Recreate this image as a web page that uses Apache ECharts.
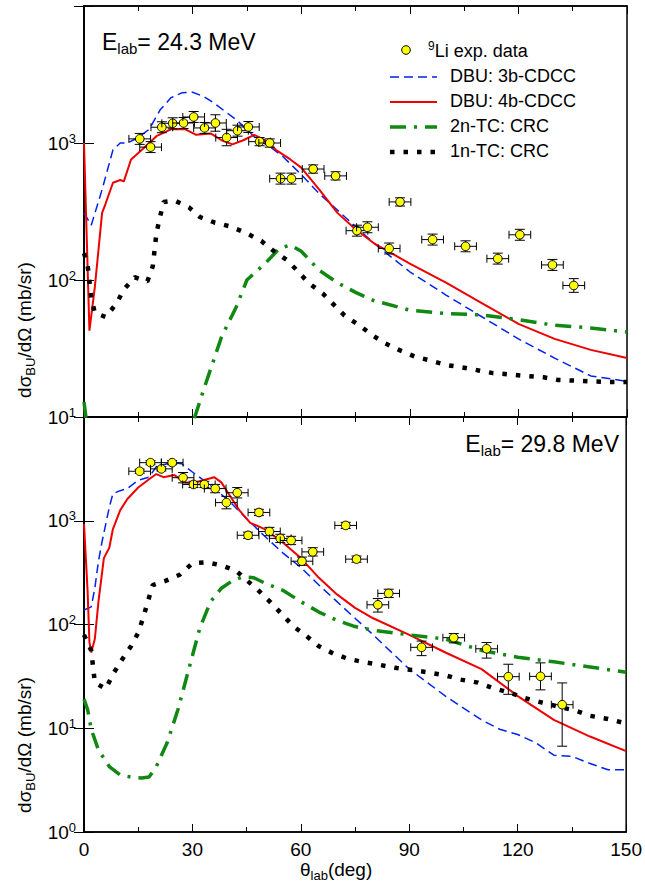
<!DOCTYPE html>
<html><head><meta charset="utf-8">
<script src="https://cdn.jsdelivr.net/npm/echarts@6/dist/echarts.min.js"></script>
<style>html,body{margin:0;background:#fff}#c{width:645px;height:886px}</style>
</head><body><div id="c"></div>
<script>
// values given as log10(mb/sr), angles in deg
const topExp = [[15.4,3.03],[18.4,2.97],[21.5,3.115],[24.5,3.144],[27.5,3.146],[30.3,3.19],[33.3,3.11],[36.3,3.146],[39.4,3.04],[42.4,3.09],[45.4,3.117],[48.5,3.01],[51.3,3.0],[54.3,2.74],[57.3,2.74],[63.3,2.81],[69.5,2.76],[75.4,2.36],[78.3,2.385],[84.3,2.23],[87.3,2.57],[96.3,2.295],[105.4,2.246],[114.3,2.156],[120.4,2.33],[129.4,2.11],[135.3,1.96]];
const topExpErr = [0.04,0.04,0.04,0.04,0.04,0.04,0.04,0.06,0.06,0.04,0.04,0.03,0.03,0.04,0.04,0.03,0.03,0.04,0.04,0.04,0.03,0.04,0.04,0.04,0.04,0.04,0.05];
const top3b = [[0,2.49],[2,2.4],[5,2.66],[8,2.95],[10,3.0],[12,3.0],[15,3.04],[18,3.1],[21,3.24],[24,3.33],[27,3.366],[30,3.37],[33,3.34],[36,3.29],[39,3.23],[42,3.17],[45,3.1],[48,3.02],[51,2.98],[55,2.9],[60,2.77],[65,2.63],[70,2.51],[75,2.39],[80,2.27],[90,2.06],[100,1.89],[110,1.73],[120,1.57],[130,1.43],[140,1.3],[150,1.26]];
const top4b = [[0,3.0],[1.5,1.63],[3,1.95],[5,2.49],[6,2.56],[8,2.71],[10,2.73],[11,2.72],[13,2.88],[16,2.95],[20,3.05],[24,3.1],[28,3.1],[31,3.06],[35,3.07],[38,3.02],[41,2.99],[44,3.02],[47,3.06],[50,3.02],[53,2.95],[57,2.88],[60,2.82],[65,2.66],[70,2.49],[75,2.37],[80,2.27],[90,2.12],[100,1.98],[110,1.83],[120,1.68],[130,1.57],[140,1.49],[150,1.43]];
const top2n = [[0,1.11],[1,0.9],[30,0.95],[33,1.195],[38,1.585],[42,1.8],[45,2.0],[50,2.12],[54,2.23],[57,2.256],[60,2.21],[65,2.07],[70,1.98],[75,1.91],[80,1.85],[90,1.78],[100,1.756],[110,1.745],[120,1.71],[130,1.67],[140,1.65],[150,1.62]];
const top1n = [[0,2.195],[1,2.11],[1.5,1.99],[2,1.87],[3,1.76],[6,1.73],[9,1.83],[11,1.93],[14,2.02],[17.5,1.99],[19,2.1],[19.5,2.22],[20,2.34],[21,2.46],[22,2.57],[25,2.58],[29,2.53],[32,2.46],[36,2.42],[40.5,2.39],[45,2.34],[49,2.285],[52,2.22],[56,2.146],[59,2.066],[62,1.98],[66,1.9],[69,1.82],[72,1.74],[76,1.67],[79.5,1.6],[83,1.54],[87,1.49],[91.5,1.44],[96,1.41],[100,1.38],[105,1.36],[109,1.34],[113,1.32],[118,1.31],[122,1.3],[127,1.29],[131,1.27],[136,1.265],[140,1.26],[145,1.256],[150,1.255]];

const botExp = [[15.4,3.477],[18.4,3.56],[21.4,3.5],[24.4,3.56],[27.4,3.415],[30.3,3.35],[33.3,3.35],[36.3,3.31],[39.4,3.175],[42.4,3.27],[45.4,2.86],[48.4,3.08],[51.3,2.896],[54.3,2.83],[57.3,2.81],[60.3,2.61],[63.3,2.7],[72.4,2.955],[75.4,2.63],[81.3,2.19],[84.3,2.3],[93.4,1.78],[102.3,1.873],[111.4,1.766],[117.4,1.497],[126.3,1.5],[132.3,1.227]];
const botExpErrHi = [0.02,0.02,0.02,0.02,0.05,0.03,0.03,0.04,0.06,0.05,0.03,0.03,0.04,0.04,0.04,0.04,0.04,0.03,0.03,0.06,0.04,0.06,0.04,0.06,0.12,0.13,0.21];
const botExpErrLo = [0.02,0.02,0.02,0.02,0.05,0.03,0.03,0.04,0.06,0.05,0.03,0.03,0.04,0.04,0.04,0.04,0.04,0.03,0.03,0.07,0.04,0.08,0.05,0.09,0.17,0.13,0.4];
const bot3b = [[0,2.14],[2,2.17],[3,2.35],[4,2.61],[5,2.8],[7,3.13],[8,3.26],[10,3.29],[12,3.31],[15,3.39],[18,3.42],[20,3.52],[24,3.56],[27,3.55],[30,3.47],[35,3.34],[40,3.195],[45,3.02],[50,2.85],[55,2.69],[60,2.55],[65,2.38],[70,2.22],[75,2.06],[80,1.9],[90,1.57],[100,1.31],[110,1.08],[115,0.99],[120,0.94],[125,0.86],[130,0.74],[135,0.73],[140,0.66],[145,0.6],[150,0.6]];
const bot4b = [[0,2.97],[1,2.32],[1.5,1.83],[2,1.73],[3,1.86],[4,2.22],[5.5,2.64],[7,2.74],[8,2.92],[10,3.1],[12,3.21],[15,3.32],[18,3.4],[20,3.45],[22,3.42],[25,3.44],[28,3.37],[30,3.36],[33,3.39],[36,3.42],[38,3.37],[40,3.26],[43,3.1],[46,2.98],[50,2.92],[55,2.79],[60,2.64],[65,2.45],[70,2.29],[75,2.16],[80,2.06],[90,1.9],[100,1.73],[110,1.57],[120,1.31],[130,1.08],[140,0.92],[150,0.78]];
const bot2n = [[0,1.28],[1,1.18],[2,0.99],[4,0.79],[7,0.63],[10,0.55],[13,0.53],[16,0.52],[18,0.53],[20,0.63],[23,0.86],[26,1.18],[29,1.57],[32,1.96],[35,2.22],[38,2.35],[41,2.42],[44,2.46],[47,2.45],[50,2.4],[55,2.33],[60,2.22],[65,2.12],[70,2.04],[75,1.98],[80,1.945],[90,1.9],[100,1.86],[110,1.75],[120,1.685],[130,1.64],[140,1.59],[150,1.54]];
const bot1n = [[0,1.9],[2,1.75],[3,1.44],[6,1.38],[8,1.52],[10.5,1.66],[13,1.79],[15,1.92],[16.5,2.08],[19,2.38],[22.5,2.42],[26.5,2.48],[30,2.59],[34,2.6],[38,2.57],[42,2.52],[48.5,2.32],[52,2.2],[55,2.09],[58,1.98],[61.5,1.89],[65,1.79],[69,1.72],[73,1.67],[77,1.64],[82,1.61],[86.5,1.58],[91,1.56],[95,1.54],[100,1.51],[104,1.47],[109,1.44],[113,1.39],[118,1.34],[122,1.29],[126.5,1.25],[131,1.21],[136,1.17],[140,1.12],[145,1.09],[149.5,1.05]];
const xErr = 3;
const legendNames = ['DBU: 3b-CDCC', 'DBU: 4b-CDCC', '2n-TC: CRC', '1n-TC: CRC'];

const lin = arr => arr.map(p => [p[0], Math.pow(10, p[1])]);
const FONT = 'Liberation Sans';

const grids = [
  {left: 84, right: 18, top: 6, height: 411, show: true, borderColor: '#000', borderWidth: 1.5},
  {left: 84, right: 18, top: 417, height: 415, show: true, borderColor: '#000', borderWidth: 1.5}
];
function xAx(i, show, pos) {
  return {type: 'value', gridIndex: i, min: 0, max: 150, interval: 30, position: pos,
    axisLine: {show: true, onZero: false, lineStyle: {color: '#000', width: 1.5}},
    axisTick: {show: true, inside: true, length: 8, lineStyle: {color: '#000'}},
    minorTick: {show: true, splitNumber: 2, length: 5, lineStyle: {color: '#000'}},
    axisLabel: {show: show, color: '#000', fontSize: 19, fontFamily: FONT, margin: 8},
    splitLine: {show: false}};
}
function yAx(i, min, max, show, pos) {
  return {type: 'log', gridIndex: i, min: min, max: max, logBase: 10, position: pos,
    axisLine: {show: true, lineStyle: {color: '#000', width: 1.5}},
    axisTick: {show: true, inside: true, length: 10, lineStyle: {color: '#000'}},
    axisLabel: {show: show, color: '#000', fontSize: 19, fontFamily: FONT, margin: 8,
      formatter: v => v >= 10000 ? '' : '10{s|' + Math.round(Math.log10(v)) + '}',
      rich: {s: {fontSize: 13, verticalAlign: 'top', padding: [0, 0, 10, 0], fontFamily: FONT}}},
    splitLine: {show: false}};
}

function errSeries(xi, data, hi, lo) {
  return {type: 'custom', xAxisIndex: xi, yAxisIndex: xi * 2, z: 5,
    data: data.map((p, k) => [p[0], p[1], hi[k], lo[k]]),
    renderItem: (params, api) => {
      const x = api.value(0), ly = api.value(1);
      const c = api.coord([x, Math.pow(10, ly)]);
      const l = api.coord([x - xErr, Math.pow(10, ly)]);
      const r = api.coord([x + xErr, Math.pow(10, ly)]);
      const t = api.coord([x, Math.pow(10, ly + api.value(2))]);
      const b = api.coord([x, Math.pow(10, ly - api.value(3))]);
      const st = {stroke: '#000', lineWidth: 1};
      return {type: 'group', children: [
        {type: 'line', shape: {x1: l[0], y1: c[1], x2: r[0], y2: c[1]}, style: st},
        {type: 'line', shape: {x1: l[0], y1: c[1] - 4, x2: l[0], y2: c[1] + 4}, style: st},
        {type: 'line', shape: {x1: r[0], y1: c[1] - 4, x2: r[0], y2: c[1] + 4}, style: st},
        {type: 'line', shape: {x1: c[0], y1: t[1], x2: c[0], y2: b[1]}, style: st},
        {type: 'line', shape: {x1: c[0] - 5, y1: t[1], x2: c[0] + 5, y2: t[1]}, style: st},
        {type: 'line', shape: {x1: c[0] - 5, y1: b[1], x2: c[0] + 5, y2: b[1]}, style: st},
        {type: 'circle', shape: {cx: c[0], cy: c[1], r: 4.3}, style: {fill: '#ffff00', stroke: '#000', lineWidth: 1}}
      ]};
    }};
}
function line(name, xi, data, style) {
  return Object.assign({name: name, type: 'line', xAxisIndex: xi, yAxisIndex: xi * 2,
    data: lin(data), showSymbol: false, symbol: 'none', smooth: false, z: 3}, style);
}
const sBlue = {color: '#0022ee', lineStyle: {color: '#0022ee', width: 1.5, type: [9, 5]}};
const sRed = {color: '#ee0000', lineStyle: {color: '#ee0000', width: 2}};
const sGreen = {color: '#118811', lineStyle: {color: '#118811', width: 3.5, type: [16, 8, 3, 8]}};
const sBlack = {color: '#000', lineStyle: {color: '#000', width: 4.5, type: [4.5, 9]}};
const legendStyles = [sBlue, sRed, sGreen, sBlack];

// hand-drawn legend box (line samples with dashes)
const legendGraphics = [
  {type: 'circle', shape: {cx: 406, cy: 50, r: 4.3}, style: {fill: '#ffff00', stroke: '#000', lineWidth: 1}},
  {type: 'text', left: 428, top: 40, style: {text: '{s|9}Li exp. data', font: '18px ' + FONT, fill: '#000',
    rich: {s: {fontSize: 12, padding: [0, 0, 10, 0], fontFamily: FONT}}}}
];
legendNames.forEach((n, k) => {
  const y = 77 + k * 25, ls = legendStyles[k].lineStyle;
  legendGraphics.push({type: 'line', shape: {x1: 390, y1: y, x2: 437, y2: y},
    style: {stroke: ls.color, lineWidth: ls.width, lineDash: Array.isArray(ls.type) ? ls.type : null}});
  legendGraphics.push({type: 'text', left: 450, top: y - 10, style: {text: n, font: '18px ' + FONT, fill: '#000'}});
});

const chart = echarts.init(document.getElementById('c'), null, {renderer: 'svg'});
chart.setOption({
  animation: false,
  grid: grids,
  xAxis: [xAx(0, false, 'bottom'), xAx(1, true, 'bottom'), xAx(0, false, 'top'), xAx(1, false, 'top')],
  yAxis: [yAx(0, 10, 10000, true, 'left'), yAx(0, 10, 10000, false, 'right'),
    yAx(1, 1, 10000, true, 'left'), yAx(1, 1, 10000, false, 'right')],
  graphic: legendGraphics.concat([
    {type: 'text', left: 102, top: 30, style: {text: 'E{s|lab}= 24.3 MeV', font: '23px ' + FONT, fill: '#000',
      rich: {s: {fontSize: 15, padding: [14, 0, 0, 0], fontFamily: FONT}}}},
    {type: 'text', right: 26, top: 432, style: {text: 'E{s|lab}= 29.8 MeV', font: '23px ' + FONT, fill: '#000',
      rich: {s: {fontSize: 15, padding: [14, 0, 0, 0], fontFamily: FONT}}}},
    {type: 'text', left: 300, top: 860, style: {text: 'θ{s|lab}(deg)', font: '19px ' + FONT, fill: '#000',
      rich: {s: {fontSize: 13, padding: [12, 0, 0, 0], fontFamily: FONT}}}},
    {type: 'text', x: 12, y: 330, rotation: Math.PI / 2, style: {text: 'dσ{s|BU}/dΩ (mb/sr)', font: '19px ' + FONT, fill: '#000', align: 'center',
      rich: {s: {fontSize: 13, padding: [12, 0, 0, 0], fontFamily: FONT}}}},
    {type: 'text', x: 12, y: 745, rotation: Math.PI / 2, style: {text: 'dσ{s|BU}/dΩ (mb/sr)', font: '19px ' + FONT, fill: '#000', align: 'center',
      rich: {s: {fontSize: 13, padding: [12, 0, 0, 0], fontFamily: FONT}}}}
  ]),
  series: [
    line(legendNames[0], 0, top3b, sBlue),
    line(legendNames[1], 0, top4b, sRed),
    line(legendNames[2], 0, top2n, sGreen),
    line(legendNames[3], 0, top1n, sBlack),
    line(legendNames[0], 1, bot3b, sBlue),
    line(legendNames[1], 1, bot4b, sRed),
    line(legendNames[2], 1, bot2n, sGreen),
    line(legendNames[3], 1, bot1n, sBlack),
    errSeries(0, topExp, topExpErr, topExpErr),
    errSeries(1, botExp, botExpErrHi, botExpErrLo)
  ]
});
</script></body></html>
